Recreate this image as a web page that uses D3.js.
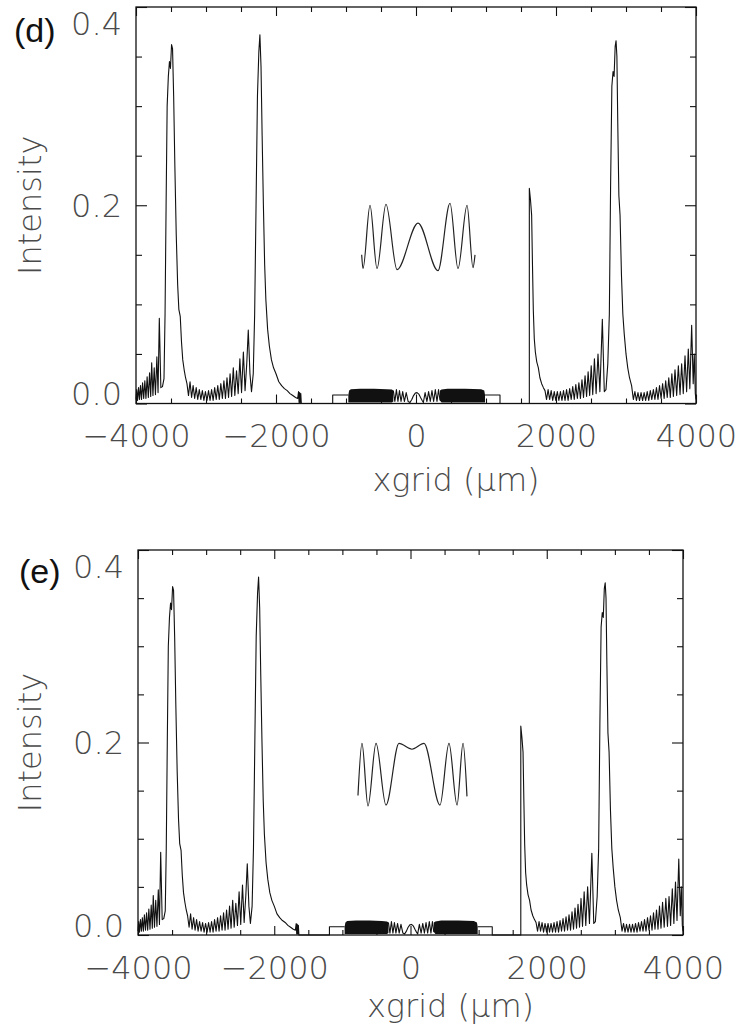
<!DOCTYPE html>
<html>
<head>
<meta charset="utf-8">
<script src="https://cdn.jsdelivr.net/npm/d3@7"></script>
<style>
  body { margin: 0; background: #fff; }
  .tick-label, .axis-title { font-family: "DejaVu Sans", sans-serif; font-weight: 200; font-size: 32px; fill: #4a4a4a; }
  .panel-label { font-family: "Liberation Sans", Arial, sans-serif; font-size: 34px; fill: #111; }
</style>
</head>
<body>
<svg id="chart" width="740" height="1029"></svg>
<script>
/* tick values and labels */
var xTicks = [-4000, -2000, 0, 2000, 4000];
var xTickLabels = ["\u22124000", "\u22122000", "0", "2000", "4000"];
var xMinorTicks = [-3500, -3000, -2500, -1500, -1000, -500, 500, 1000, 1500, 2500, 3000, 3500];
var yTicks = [0.0, 0.2, 0.4];
var yTickLabels = ["0.0", "0.2", "0.4"];
var yMinorTicks = [0.05, 0.1, 0.15, 0.25, 0.3, 0.35];
var panelLabels = ["(d)", "(e)"];

/* main intensity profile, [xgrid, intensity] - same in both panels */
var leftWing = [
  [-4000, 0.004], [-3990, 0.014], [-3978, 0.003], [-3964, 0.016], [-3950, 0.004], [-3936, 0.018],
  [-3921, 0.004], [-3906, 0.021], [-3890, 0.005], [-3874, 0.023], [-3858, 0.005], [-3841, 0.027],
  [-3824, 0.006], [-3806, 0.031], [-3790, 0.007], [-3776, 0.041], [-3758, 0.008], [-3740, 0.036],
  [-3722, 0.009], [-3702, 0.047], [-3685, 0.011], [-3667, 0.086], [-3645, 0.016], [-3622, 0.017],
  [-3600, 0.025], [-3585, 0.09], [-3570, 0.2], [-3555, 0.3], [-3538, 0.33], [-3522, 0.345],
  [-3508, 0.338], [-3492, 0.362], [-3478, 0.358], [-3462, 0.31], [-3445, 0.24], [-3425, 0.17],
  [-3405, 0.12], [-3388, 0.095], [-3368, 0.088], [-3350, 0.062], [-3332, 0.044], [-3312, 0.034],
  [-3292, 0.026], [-3272, 0.02],
  [-3250, 0.008], [-3228, 0.022], [-3206, 0.006], [-3184, 0.018], [-3162, 0.005], [-3140, 0.016],
  [-3118, 0.004], [-3096, 0.014], [-3074, 0.004], [-3052, 0.013], [-3030, 0.003], [-3008, 0.012],
  [-2986, 0.003], [-2964, 0.013], [-2942, 0.003], [-2920, 0.014], [-2898, 0.003], [-2876, 0.016],
  [-2854, 0.004], [-2832, 0.018], [-2810, 0.004], [-2788, 0.02], [-2766, 0.005], [-2744, 0.023],
  [-2722, 0.005], [-2700, 0.026], [-2678, 0.006], [-2656, 0.03], [-2634, 0.007], [-2610, 0.036],
  [-2588, 0.008], [-2564, 0.033], [-2540, 0.01], [-2516, 0.045], [-2492, 0.011], [-2466, 0.052],
  [-2442, 0.013], [-2418, 0.04], [-2396, 0.074], [-2372, 0.03], [-2350, 0.012],
  [-2325, 0.03], [-2305, 0.09], [-2285, 0.2], [-2265, 0.31], [-2245, 0.355], [-2230, 0.372],
  [-2214, 0.34], [-2198, 0.27], [-2180, 0.2], [-2162, 0.14], [-2145, 0.105], [-2120, 0.075],
  [-2095, 0.058], [-2065, 0.044], [-2035, 0.036], [-2000, 0.03], [-1960, 0.022], [-1920, 0.018],
  [-1880, 0.015], [-1840, 0.013], [-1800, 0.01], [-1760, 0.008], [-1720, 0.006], [-1690, 0.005],
  [-1678, 0.012], [-1670, 0.001], [-1662, 0.011], [-1654, 0.001], [-1646, 0.01], [-1638, 0.0],
  [-1190, 0.0], [-1190, 0.0086], [-967, 0.0086]
];

/* dense fringes near the centre drawn as an envelope: [xgrid, low, high] */
var bandLeft = [
  [-967, 0.001, 0.0086], [-955, 0.001, 0.013], [-930, 0.001, 0.0145], [-800, 0.001, 0.015],
  [-600, 0.001, 0.015], [-420, 0.001, 0.0145], [-345, 0.001, 0.014], [-324, 0.002, 0.013]
];
var bandRight = [
  [343, 0.003, 0.013], [365, 0.001, 0.014], [450, 0.001, 0.015], [700, 0.001, 0.015],
  [930, 0.001, 0.0145], [975, 0.001, 0.013], [986, 0.001, 0.0086]
];

var centreWiggles = [
  [-324, 0.013], [-302, 0.002], [-280, 0.014], [-258, 0.002], [-236, 0.013], [-214, 0.002],
  [-190, 0.012], [-166, 0.002], [-140, 0.011], [-112, 0.002], [-86, 0.001], [-60, 0.004],
  [-35, 0.008], [-10, 0.0105], [15, 0.011], [40, 0.0095], [65, 0.006], [88, 0.003],
  [105, 0.001], [130, 0.011], [156, 0.002], [180, 0.012], [204, 0.002], [228, 0.013],
  [252, 0.002], [276, 0.014], [300, 0.002], [322, 0.014], [343, 0.003]
];

var rightWing = [
  [986, 0.0086], [1200, 0.0086], [1200, 0.0], [1619, 0.0], [1619, 0.217], [1636, 0.205],
  [1652, 0.19], [1664, 0.14], [1676, 0.094], [1690, 0.065], [1705, 0.052], [1725, 0.042],
  [1748, 0.036], [1770, 0.026], [1795, 0.02], [1820, 0.016], [1843, 0.013],
  [1865, 0.004], [1887, 0.014], [1909, 0.004], [1931, 0.013], [1953, 0.003], [1975, 0.012],
  [1997, 0.003], [2019, 0.012], [2041, 0.003], [2063, 0.012], [2085, 0.003], [2107, 0.013],
  [2129, 0.003], [2151, 0.014], [2173, 0.003], [2195, 0.015], [2217, 0.004], [2239, 0.017],
  [2261, 0.004], [2283, 0.019], [2305, 0.005], [2327, 0.021], [2349, 0.005], [2371, 0.024],
  [2393, 0.006], [2415, 0.028], [2437, 0.007], [2459, 0.032], [2481, 0.008], [2503, 0.038],
  [2525, 0.009], [2549, 0.045], [2573, 0.01], [2600, 0.05], [2627, 0.012], [2662, 0.085],
  [2690, 0.012], [2714, 0.014],
  [2740, 0.04], [2762, 0.09], [2780, 0.22], [2798, 0.32], [2815, 0.335], [2830, 0.33],
  [2845, 0.36], [2858, 0.366], [2870, 0.35], [2883, 0.28], [2898, 0.21], [2915, 0.19],
  [2935, 0.13], [2955, 0.09], [2975, 0.07], [3000, 0.05], [3025, 0.036], [3050, 0.026],
  [3080, 0.018],
  [3105, 0.004], [3127, 0.012], [3149, 0.003], [3171, 0.011], [3193, 0.003], [3215, 0.011],
  [3237, 0.003], [3259, 0.011], [3281, 0.003], [3303, 0.012], [3325, 0.003], [3347, 0.013],
  [3369, 0.004], [3391, 0.014], [3413, 0.004], [3435, 0.016], [3457, 0.004], [3479, 0.018],
  [3501, 0.005], [3523, 0.02], [3545, 0.005], [3567, 0.023], [3589, 0.006], [3611, 0.026],
  [3633, 0.006], [3655, 0.03], [3677, 0.007], [3700, 0.034], [3724, 0.008], [3748, 0.038],
  [3772, 0.009], [3795, 0.04], [3818, 0.01], [3843, 0.048], [3866, 0.012], [3890, 0.055],
  [3912, 0.015], [3938, 0.079], [3960, 0.02], [3975, 0.05], [3990, 0.01], [4000, 0.004]
];

/* inset profiles, drawn in the data frame of each panel */
var insetD = [
  [-776, 0.150], [-757, 0.136], [-657, 0.200], [-557, 0.136], [-429, 0.201], [-271, 0.135],
  [29, 0.182], [314, 0.134], [486, 0.202], [600, 0.136], [729, 0.200], [814, 0.137], [843, 0.150]
];
var insetE = [
  [-771, 0.145], [-712, 0.199], [-624, 0.134], [-506, 0.199], [-360, 0.135], [-169, 0.199],
  [22, 0.193], [198, 0.199], [433, 0.135], [565, 0.199], [683, 0.135], [771, 0.199], [829, 0.144]
];

var svg = d3.select("#chart");

/* frame of each panel in page pixels */
var panels = [
  {label: 0, inset: insetD, left: 136, right: 696, top: 7, bottom: 403.5,
   labelX: 14, labelY: 42, tickDy: 45, titleDy: 87},
  {label: 1, inset: insetE, left: 138, right: 683, top: 550, bottom: 935,
   labelX: 19, labelY: 583, tickDy: 43, titleDy: 82}
];

panels.forEach(function(p) {
  var x = d3.scaleLinear().domain([-4000, 4000]).range([p.left, p.right]);
  var y = d3.scaleLinear().domain([0, 0.4]).range([p.bottom, p.top]);
  var g = svg.append("g");

  /* ticks on all four sides, pointing in */
  function ticks(axis, tx, ty) {
    var a = g.append("g").attr("transform", "translate(" + tx + "," + ty + ")").call(axis);
    a.select(".domain").remove();
    a.selectAll("line").attr("stroke", "#111").attr("stroke-width", 1.1);
    a.attr("font-size", null).attr("font-family", null);
    return a;
  }
  var xb = ticks(d3.axisBottom(x).tickValues(xTicks).tickSize(-9).tickSizeOuter(0).tickPadding(21)
    .tickFormat(function(d, i) { return xTickLabels[i]; }), 0, p.bottom);
  xb.selectAll("text").attr("class", "tick-label").attr("dy", "0.71em");
  ticks(d3.axisBottom(x).tickValues(xMinorTicks).tickSize(-5).tickFormat(""), 0, p.bottom);
  ticks(d3.axisTop(x).tickValues(xTicks).tickSize(-9).tickFormat(""), 0, p.top);
  ticks(d3.axisTop(x).tickValues(xMinorTicks).tickSize(-5).tickFormat(""), 0, p.top);
  ticks(d3.axisLeft(y).tickValues(yTicks).tickSize(-11).tickFormat(""), p.left, 0);
  ticks(d3.axisLeft(y).tickValues(yMinorTicks).tickSize(-6).tickFormat(""), p.left, 0);
  ticks(d3.axisRight(y).tickValues(yTicks).tickSize(-11).tickFormat(""), p.right, 0);
  ticks(d3.axisRight(y).tickValues(yMinorTicks).tickSize(-6).tickFormat(""), p.right, 0);

  /* y labels, kept inside the frame height like the original */
  g.selectAll(".ylab")
    .data(yTicks)
    .enter().append("text")
      .attr("class", "tick-label")
      .attr("text-anchor", "end")
      .attr("x", p.left - 14)
      .attr("y", function(d) { return Math.min(Math.max(y(d), p.top + 16), p.bottom - 10) + 11.5; })
      .text(function(d, i) { return yTickLabels[i]; });

  g.append("text")
    .attr("class", "axis-title")
    .attr("text-anchor", "middle")
    .attr("transform", "translate(41," + y(0.2) + ") rotate(-90)")
    .text("Intensity");

  g.append("text")
    .attr("class", "axis-title")
    .attr("text-anchor", "middle")
    .attr("x", (p.left + p.right) / 2 + 40)
    .attr("y", p.bottom + p.titleDy)
    .text("xgrid (\u03bcm)");

  g.append("text")
    .attr("class", "panel-label")
    .attr("x", p.labelX)
    .attr("y", p.labelY)
    .text(panelLabels[p.label]);

  /* curves */
  var line = d3.line().x(function(d) { return x(d[0]); }).y(function(d) { return y(d[1]); });
  var band = d3.area().x(function(d) { return x(d[0]); })
    .y0(function(d) { return y(d[1]); }).y1(function(d) { return y(d[2]); });

  [leftWing, centreWiggles, rightWing].forEach(function(seg) {
    g.append("path").datum(seg)
      .attr("d", line)
      .attr("fill", "none").attr("stroke", "#111").attr("stroke-width", 1.1)
      .attr("stroke-linejoin", "round");
  });
  [bandLeft, bandRight].forEach(function(b) {
    g.append("path").datum(b).attr("d", band).attr("fill", "#111");
  });

  g.append("path").datum(p.inset)
    .attr("d", line.curve(d3.curveMonotoneX))
    .attr("fill", "none").attr("stroke", "#222").attr("stroke-width", 1.2);

  g.append("rect")
    .attr("x", p.left).attr("y", p.top)
    .attr("width", p.right - p.left).attr("height", p.bottom - p.top)
    .attr("fill", "none").attr("stroke", "#111").attr("stroke-width", 1.3);
});
</script>
</body>
</html>
